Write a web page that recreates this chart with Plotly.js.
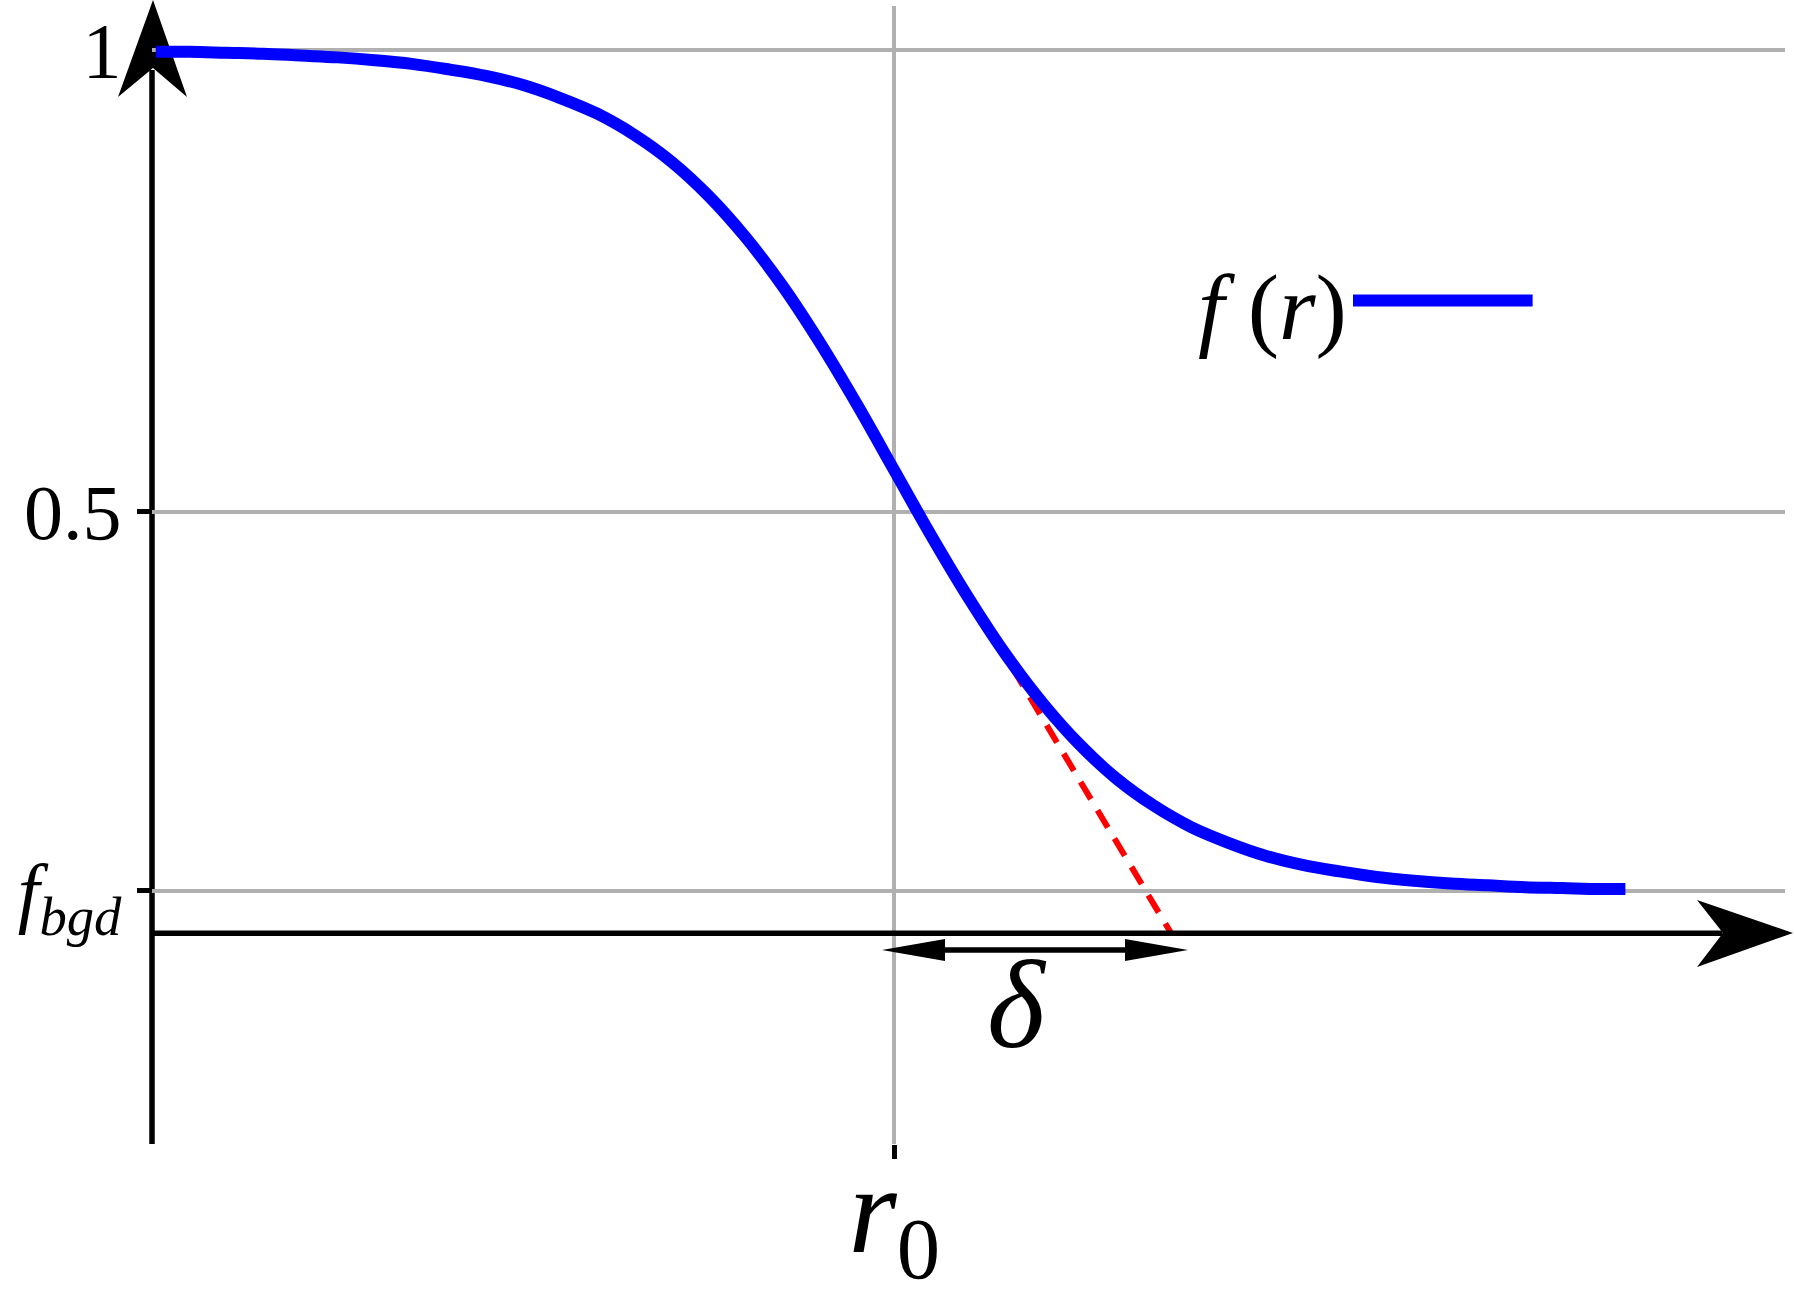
<!DOCTYPE html>
<html>
<head>
<meta charset="utf-8">
<script src="https://cdn.plot.ly/plotly-3.0.1.min.js"></script>
<style>
  html, body { margin: 0; padding: 0; background: #fff; }
  #chart { width: 1794px; height: 1301px; }
</style>
</head>
<body>
<div id="chart"></div>
<script>
// profile f(r)
const r = [0.005, 0.05, 0.1, 0.15, 0.2, 0.25, 0.3, 0.35, 0.4, 0.45, 0.5, 0.55, 0.6, 0.65, 0.7, 0.75,
           0.8, 0.85, 0.9, 0.95, 1.0, 1.05, 1.1, 1.15, 1.2, 1.25, 1.3, 1.35, 1.4, 1.45, 1.5,
           1.55, 1.6, 1.65, 1.7, 1.75, 1.8, 1.85, 1.9, 1.95, 1.985];
const f = [0.998, 0.998, 0.997, 0.996, 0.994, 0.992, 0.989, 0.985, 0.979, 0.972, 0.962, 0.948, 0.931, 0.908, 0.879, 0.842,
           0.797, 0.744, 0.683, 0.616, 0.545, 0.474, 0.407, 0.346, 0.293, 0.248, 0.211, 0.182, 0.159, 0.142, 0.128,
           0.118, 0.111, 0.105, 0.101, 0.098, 0.096, 0.094, 0.093, 0.092, 0.092];

// tangent at r0 (red dashed)
const tangentR = [1.0, 1.373];
const tangentF = [0.545, 0.044];

// ticks
const xTickVals = [1];
const xTickText = ['<i>r</i><sub>0</sub>'];
const yTickVals = [0.09, 0.5, 1];
const yTickText = ['<i>f</i><sub><i>bgd</i></sub>', '0.5', '1'];

// annotation positions
const axisY = 0.044;        // drawn horizontal axis
const deltaY = 0.026;       // delta double arrow
const deltaFrom = 0.9834;
const deltaTo = 1.3957;

const serif = 'Liberation Serif, DejaVu Serif, serif';

// plot area in pixels, used for paper-positioned decorations
const L = 152, R = 1785, T = 6, B = 1144;
const px = x => (x - L) / (R - L);
const py = y => (B - y) / (B - T);

const traces = [
  {
    x: tangentR, y: tangentF, mode: 'lines',
    line: { color: '#ff0000', width: 6, dash: '20px,13px' },
    hoverinfo: 'skip'
  },
  {
    x: r, y: f, mode: 'lines', name: 'f(r)',
    line: { color: '#0000ff', width: 12, shape: 'spline', smoothing: 1 },
    hoverinfo: 'skip'
  }
];

const headL = 0.0849, headH = 0.0119;

const shapes = [
  // y axis line + arrow (under the curve, like the original)
  { type: 'line', xref: 'paper', yref: 'paper', x0: 0, x1: 0, y0: 0, y1: py(70), layer: 'between',
    line: { color: '#000', width: 5.5 } },
  { type: 'path', xref: 'paper', yref: 'paper', fillcolor: '#000', line: { width: 0 }, layer: 'between',
    path: `M ${px(153)},${py(0)} L ${px(118)},${py(97)} L ${px(153)},${py(68)} L ${px(187)},${py(97)} Z` },
  // x axis line + arrow
  { type: 'line', xref: 'x', yref: 'y', x0: 0, x1: 2.116, y0: axisY, y1: axisY,
    line: { color: '#000', width: 5.5 } },
  { type: 'path', xref: 'paper', yref: 'paper', fillcolor: '#000', line: { width: 0 },
    path: `M ${px(1793)},${py(933)} L ${px(1697)},${py(900)} L ${px(1723)},${py(933)} L ${px(1697)},${py(967)} Z` },
  // delta double arrow
  { type: 'line', xref: 'x', yref: 'y', x0: deltaFrom + 0.05, x1: deltaTo - 0.05, y0: deltaY, y1: deltaY,
    line: { color: '#000', width: 5.5 } },
  { type: 'path', xref: 'x', yref: 'y', fillcolor: '#000', line: { width: 0 },
    path: `M ${deltaFrom},${deltaY} L ${deltaFrom + headL},${deltaY + headH} L ${deltaFrom + headL},${deltaY - headH} Z` },
  { type: 'path', xref: 'x', yref: 'y', fillcolor: '#000', line: { width: 0 },
    path: `M ${deltaTo},${deltaY} L ${deltaTo - headL},${deltaY + headH} L ${deltaTo - headL},${deltaY - headH} Z` },
  // legend key
  { type: 'line', xref: 'x', yref: 'y', x0: 1.618, x1: 1.860, y0: 0.729, y1: 0.729,
    line: { color: '#0000ff', width: 12 } }
];

const annotations = [
  { x: 1.612, y: 0.722, xref: 'x', yref: 'y', xanchor: 'right', yanchor: 'middle',
    text: '<i>f</i> (<i>r</i>)', showarrow: false, font: { family: serif, size: 94, color: '#000' } },
  { x: 1.165, y: -0.034, xref: 'x', yref: 'y', xanchor: 'center', yanchor: 'middle',
    text: '<i>δ</i>', showarrow: false, font: { family: serif, size: 124, color: '#000' } }
];

const layout = {
  width: 1794, height: 1301,
  margin: { l: L, r: 1794 - R, t: T, b: 1301 - B, pad: 0 },
  paper_bgcolor: '#fff', plot_bgcolor: '#fff',
  showlegend: false,
  xaxis: {
    range: [0, 2.2], tickmode: 'array', tickvals: xTickVals, ticktext: xTickText,
    showgrid: true, gridcolor: '#b0b0b0', gridwidth: 4, zeroline: false, showline: false,
    ticks: 'outside', ticklen: 14, tickwidth: 5, tickcolor: '#000',
    ticklabelstandoff: -56,
    tickfont: { family: serif, size: 124, color: '#000' }
  },
  yaxis: {
    range: [-0.184, 1.0476], tickmode: 'array', tickvals: yTickVals, ticktext: yTickText,
    showgrid: true, gridcolor: '#b0b0b0', gridwidth: 4, zeroline: false, showline: false,
    ticks: 'outside', ticklen: 14, tickwidth: 5, tickcolor: '#000',
    tickfont: { family: serif, size: 78, color: '#000' }
  },
  shapes: shapes,
  annotations: annotations
};

Plotly.newPlot('chart', traces, layout, { displayModeBar: false, staticPlot: true });
</script>
</body>
</html>
